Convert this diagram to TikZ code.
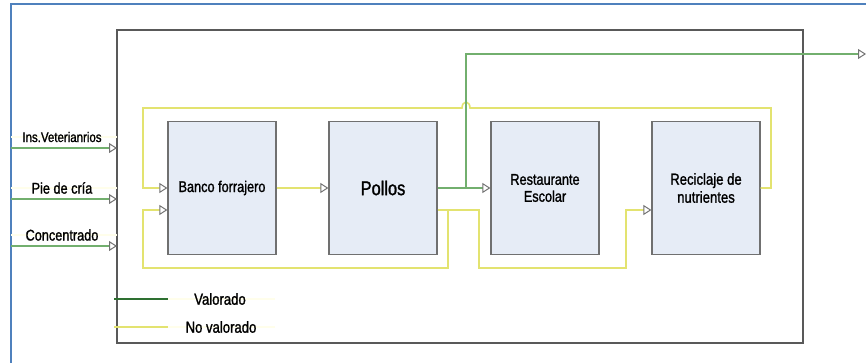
\documentclass[tikz,border=0pt]{standalone}
\usepackage{fontspec}
\setmainfont{Liberation Sans}[FakeStretch=0.82,FakeBold=1.3]
\usetikzlibrary{arrows.meta,calc}
\definecolor{flowgreen}{HTML}{72AF6E}
\definecolor{darkgreen}{HTML}{2E7031}
\definecolor{flowyellow}{HTML}{E3E370}
\definecolor{boxfill}{HTML}{E6ECF6}
\definecolor{boxline}{HTML}{707070}
\definecolor{frameblue}{HTML}{4F81BD}
\tikzset{
  proc/.style={draw=boxline,fill=boxfill,line width=1.2pt,minimum width=108pt,
    minimum height=133pt,inner sep=0pt,align=center,font=\fontsize{15.5}{17}\selectfont},
  tip/.style={-{Triangle[open,length=8pt,width=10pt,line width=1pt,color=gray!90!black,fill=white]}},
  green flow/.style={draw=flowgreen,line width=1.6pt,tip},
  yellow flow/.style={draw=flowyellow,line width=1.6pt,tip},
  faint/.style={draw=yellow!8,line width=1.5pt},
  inlabel/.style={font=\fontsize{15}{16}\selectfont},
}
\begin{document}
\begin{tikzpicture}[x=1pt,y=-1pt]
  \useasboundingbox (0,0) rectangle (866,363);
  % frame and system boundary
  \draw[frameblue,line width=2pt] (11,363) -- (11,4) -- (866,4);
  \draw[gray!70!black,line width=1.3pt] (117,30) rectangle (803,343);

  % components
  \node[proc] (banco) at (222,188) {Banco forrajero};
  \node[proc,font=\fontsize{20}{22}\selectfont] (pollos) at (383,188) {Pollos};
  \node[proc] (restaurante) at (545,188) {Restaurante\\Escolar};
  \node[proc,font=\fontsize{16}{18}\selectfont] (reciclaje) at (706,188) {Reciclaje de\\nutrientes};

  % inputs
  \foreach \lbl/\y/\fs in {Ins.Veterianrios/148/14, Pie de cría/199/15.5, Concentrado/246/15.5} {
    \coordinate (src\y) at (11,\y);
    \coordinate (dst\y) at (117,\y);
    \draw[faint] (11,\y-11) -- (117,\y-11);
    \draw[green flow] (src\y) -- (dst\y);
    \node[font=\fontsize{\fs}{16}\selectfont] (lbl\y) at (62,\y-11) {\lbl};
  }

  % flows
  \coordinate (branch) at (466,188);
  \coordinate (out) at (866,54);
  \draw[yellow flow] (reciclaje.east) -| (771,108) -- (470,108)
    arc[start angle=0,end angle=-180,x radius=4,y radius=6] -- (143,108) |- (banco.west);
  \draw[yellow flow] ($(pollos.east)+(0,22)$) -| (448,268) -- (143,268)
    |- ($(banco.west)+(0,22)$);
  \draw[yellow flow] ($(pollos.east)+(0,22)$) -| (479,268) -- (626,268)
    |- ($(reciclaje.west)+(0,22)$);
  \draw[yellow flow] (banco.east) -- (pollos.west);
  \draw[green flow] (pollos.east) -- (restaurante.west);
  \draw[green flow] (branch) |- (out);

  % legend
  \draw[faint] (168,299) -- (275,299);
  \draw[faint] (168,327) -- (275,327);
  \draw[darkgreen,line width=1.2pt] (114,299) -- (168,299);
  \draw[flowyellow,line width=1.6pt] (114,327) -- (168,327);
  \node[inlabel,font=\fontsize{16}{17}\selectfont] (valorado) at (220,299) {Valorado};
  \node[inlabel,font=\fontsize{16}{17}\selectfont] (novalorado) at (221,327) {No valorado};
\end{tikzpicture}
\end{document}
